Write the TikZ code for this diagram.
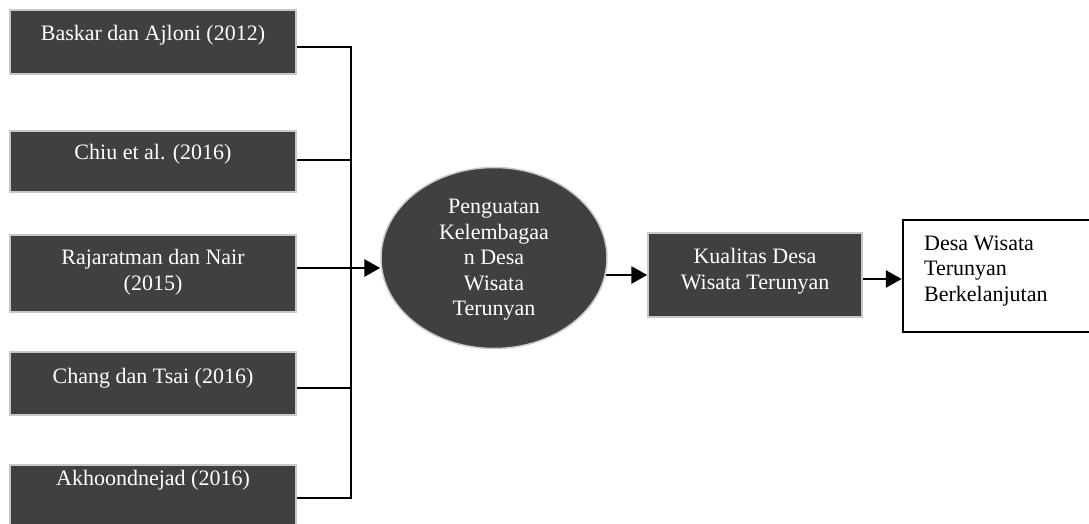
\documentclass[tikz,border=0pt]{standalone}
\usepackage{fontspec}
\setmainfont{Liberation Serif}
\usetikzlibrary{arrows.meta,shapes.geometric}
\definecolor{boxfill}{HTML}{404040}
\definecolor{boxline}{HTML}{C8C8C8}
\begin{document}
\begin{tikzpicture}[x=1pt,y=-1pt,
  darkbox/.style={draw=boxline, line width=1.5pt, fill=boxfill, inner sep=0pt},
  lbl/.style={text=white, font=\fontsize{22}{25.5}\selectfont, align=center, inner sep=0pt},
  blbl/.style={text=black, font=\fontsize{22}{25.5}\selectfont, align=left, inner sep=0pt},
  conn/.style={line width=2.8pt, black},
  arr/.style={conn, -{Triangle[length=16pt,width=17pt]}}]
\useasboundingbox (0,0) rectangle (1089,523);
\clip (0,0) rectangle (1089,523);
% source boxes
\node[darkbox, minimum width=286pt, minimum height=64pt] (b1) at (153,42) {};
\node[lbl] (t1) at (153,35) {Baskar dan Ajloni (2012)};
\node[darkbox, minimum width=286pt, minimum height=61pt] (b2) at (153,161.5) {};
\node[lbl] (t2) at (153,154) {Chiu et al. (2016)};
\node[darkbox, minimum width=286pt, minimum height=77pt] (b3) at (153,273.5) {};
\node[lbl] (t3) at (153,272) {Rajaratman dan Nair\\(2015)};
\node[darkbox, minimum width=286pt, minimum height=63pt] (b4) at (153,383.5) {};
\node[lbl] (t4) at (153,378) {Chang dan Tsai (2016)};
\node[darkbox, minimum width=286pt, minimum height=65pt] (b5) at (153,497.5) {};
\node[lbl] (t5) at (153,480) {Akhoondnejad (2016)};
% circle
\node[ellipse, draw=boxline, line width=1.5pt, fill=boxfill, minimum width=226pt, minimum height=181pt, inner sep=0pt] (c) at (494,258) {};
\node[lbl] (tc) at (494,260) {Penguatan\\Kelembagaa\\n Desa\\Wisata\\Terunyan};
% quality box
\node[darkbox, minimum width=214pt, minimum height=84pt] (k) at (755,275) {};
\node[lbl] (tk) at (755,271) {Kualitas Desa\\Wisata Terunyan};
% white box
\node[draw=black, line width=2.5pt, fill=white, minimum width=192pt, minimum height=112pt, inner sep=0pt] (w) at (999,276) {};
\node[blbl, anchor=west] (tw) at (924,271) {Desa Wisata\\Terunyan\\Berkelanjutan};
% connectors
\coordinate (jt) at (351,47);
\coordinate (jb) at (351,498);
\draw[conn] ([yshift=-5pt]b1.east) -- (jt) -- (jb) -- ([yshift=-0.5pt]b5.east);
\draw[conn] ([yshift=1.5pt]b2.east) -- ([yshift=1.5pt]b2.east -| jt);
\draw[conn] ([yshift=-4.5pt]b4.east) -- ([yshift=-4.5pt]b4.east -| jt);
\draw[arr] ([yshift=5.5pt]b3.east) -- ([yshift=5.5pt]b3.east -| c.west);
\draw[arr] ([xshift=-2pt]c.east |- k.west) -- (k.west);
\draw[arr] ([yshift=-4pt]k.east) -- ([yshift=-4pt]k.east -| w.west);
\end{tikzpicture}
\end{document}
